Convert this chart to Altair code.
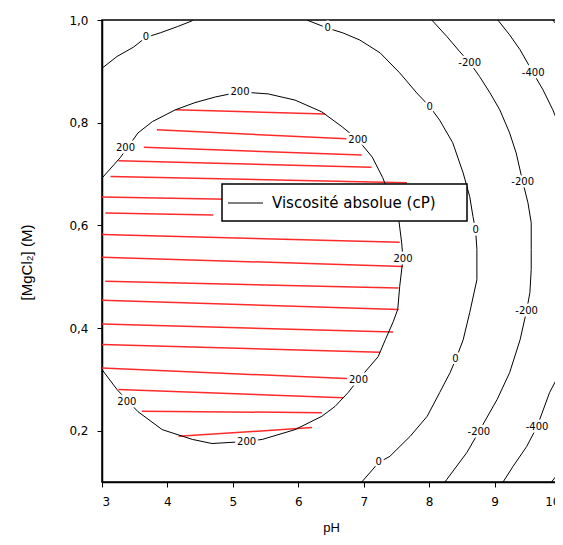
import altair as alt
import pandas as pd

# ---- contour lines (pH, [MgCl2]) ----
c200_ph = [3.00, 3.28, 3.55, 3.77, 4.12, 4.42, 4.73, 5.11, 5.54, 5.95, 6.36, 6.67, 6.91, 7.13, 7.29, 7.42,
           7.54, 7.58, 7.60, 7.55, 7.52, 7.45, 7.33, 7.22, 6.91, 6.76, 6.56, 6.36, 5.95, 5.45, 5.22, 4.68,
           4.38, 3.92, 3.55, 3.40, 3.23, 3.00]
c200_m = [0.692, 0.732, 0.780, 0.802, 0.825, 0.839, 0.850, 0.860, 0.856, 0.844, 0.821, 0.792, 0.767, 0.733,
          0.693, 0.650, 0.607, 0.566, 0.535, 0.481, 0.436, 0.412, 0.377, 0.344, 0.298, 0.274, 0.247, 0.228,
          0.202, 0.183, 0.179, 0.175, 0.183, 0.202, 0.237, 0.257, 0.280, 0.319]

c0a_ph = [3.00, 3.23, 3.48, 3.67, 3.89, 4.15, 4.37, 4.39]
c0a_m = [0.906, 0.929, 0.947, 0.966, 0.975, 0.987, 0.998, 1.000]

c0b_ph = [6.13, 6.45, 6.68, 6.94, 7.25, 7.55, 7.81, 8.01, 8.16, 8.36, 8.52, 8.62, 8.67, 8.71, 8.73, 8.73,
          8.62, 8.52, 8.41, 8.32, 8.16, 7.97, 7.71, 7.40, 7.23, 6.97]
c0b_m = [1.000, 0.984, 0.975, 0.961, 0.936, 0.897, 0.858, 0.831, 0.805, 0.761, 0.702, 0.656, 0.617, 0.591,
         0.553, 0.494, 0.430, 0.377, 0.340, 0.313, 0.274, 0.228, 0.189, 0.150, 0.138, 0.100]

cm200_ph = [8.04, 8.27, 8.47, 8.62, 8.77, 8.93, 9.08, 9.23, 9.33, 9.43, 9.51, 9.56, 9.56, 9.56, 9.54, 9.49,
            9.39, 9.23, 9.04, 8.76, 8.58, 8.27, 8.24]
cm200_m = [1.000, 0.968, 0.938, 0.917, 0.890, 0.858, 0.825, 0.780, 0.741, 0.685, 0.644, 0.605, 0.553, 0.514,
           0.469, 0.434, 0.377, 0.313, 0.261, 0.198, 0.158, 0.105, 0.100]

cm400a_ph = [9.05, 9.23, 9.39, 9.59, 9.74, 9.89, 10.00]
cm400a_m = [1.000, 0.971, 0.942, 0.897, 0.864, 0.825, 0.790]
cm400b_ph = [10.00, 9.84, 9.65, 9.49, 9.28, 9.13]
cm400b_m = [0.313, 0.274, 0.208, 0.169, 0.130, 0.100]

cm600a_ph = [9.89, 10.00]
cm600a_m = [1.000, 0.982]
cm600b_ph = [10.00, 9.87]
cm600b_m = [0.121, 0.100]

# ---- contour labels ----
label_text = ["200", "200", "200", "200", "200", "200", "200",
              "0", "0", "0", "0", "0", "0",
              "-200", "-200", "-200", "-200",
              "-400", "-400"]
label_ph = [3.36, 5.11, 6.91, 7.60, 6.92, 3.38, 5.21,
            3.67, 6.45, 8.01, 8.71, 8.40, 7.23,
            8.62, 9.43, 9.49, 8.76,
            9.59, 9.65]
label_m = [0.751, 0.860, 0.767, 0.535, 0.298, 0.255, 0.178,
           0.966, 0.984, 0.831, 0.591, 0.340, 0.139,
           0.917, 0.685, 0.434, 0.198,
           0.897, 0.208]

# ---- red hatching inside the 200 contour ----
hatch_ph_left = [4.12, 3.84, 3.64, 3.25, 3.13, 3.00, 3.05, 3.00, 3.00, 3.05, 3.00, 3.00, 3.00, 3.00, 3.25, 3.61, 4.17]
hatch_m_left = [0.825, 0.786, 0.752, 0.726, 0.695, 0.655, 0.624, 0.582, 0.538, 0.491, 0.454, 0.408, 0.368,
                0.322, 0.280, 0.238, 0.189]
hatch_ph_right = [6.41, 6.82, 6.97, 7.12, 7.66, 7.40, 4.70, 7.55, 7.60, 7.53, 7.53, 7.45, 7.25, 6.82, 6.69, 6.36, 6.21]
hatch_m_right = [0.817, 0.768, 0.737, 0.713, 0.683, 0.645, 0.620, 0.567, 0.520, 0.478, 0.436, 0.392, 0.353,
                 0.301, 0.264, 0.235, 0.206]

legend_label = "Viscosité absolue (cP)"
x_title = "pH"
y_title = "[MgCl₂]  (M)"

# ---- tables ----
contours = [("c200", c200_ph, c200_m), ("c0a", c0a_ph, c0a_m), ("c0b", c0b_ph, c0b_m),
            ("cm200", cm200_ph, cm200_m), ("cm400a", cm400a_ph, cm400a_m), ("cm400b", cm400b_ph, cm400b_m),
            ("cm600a", cm600a_ph, cm600a_m), ("cm600b", cm600b_ph, cm600b_m)]
rows = []
for name, phs, ms in contours:
    for i, (p, m) in enumerate(zip(phs, ms)):
        rows.append({"contour": name, "ph": p, "m": m, "order": i})
df_c = pd.DataFrame(rows)
df_l = pd.DataFrame({"ph": label_ph, "m": label_m, "t": label_text})
df_h = pd.DataFrame({"x1": hatch_ph_left, "y1": hatch_m_left, "x2": hatch_ph_right, "y2": hatch_m_right})
df_one = pd.DataFrame({"k": [0]})

xs = alt.Scale(domain=[3, 10], nice=False, zero=False)
ys = alt.Scale(domain=[0.1, 1.0], nice=False, zero=False)

xax = alt.Axis(values=[3, 4, 5, 6, 7, 8, 9, 10], format="d", title=x_title, grid=False, tickSize=5,
               labelPadding=9, titleY=45, titleBaseline="middle")
yax = alt.Axis(values=[0.2, 0.4, 0.6, 0.8, 1.0], title=y_title, grid=False, tickSize=5,
               labelPadding=9, labelExpr="replace(format(datum.value, '.1f'), '.', ',')",
               titleX=-76, titleY=242, titleBaseline="middle", titleFontSize=15)

hatch = alt.Chart(df_h).mark_rule(color="#ff2a2a", strokeWidth=1.5).encode(
    x=alt.X("x1:Q", scale=xs, axis=xax), y=alt.Y("y1:Q", scale=ys, axis=yax),
    x2="x2:Q", y2="y2:Q")

lines = alt.Chart(df_c).mark_line(color="black", strokeWidth=1, clip=True).encode(
    x=alt.X("ph:Q", scale=xs), y=alt.Y("m:Q", scale=ys),
    detail="contour:N", order="order:Q")

halo = alt.Chart(df_l).mark_text(fontSize=10, font="DejaVu Sans", stroke="white", strokeWidth=5,
                                 fill="white").encode(
    x=alt.X("ph:Q", scale=xs), y=alt.Y("m:Q", scale=ys), text="t:N")
labels = alt.Chart(df_l).mark_text(fontSize=10, font="DejaVu Sans", color="black").encode(
    x=alt.X("ph:Q", scale=xs), y=alt.Y("m:Q", scale=ys), text="t:N")

leg_box = alt.Chart(df_one).mark_rect(fill="white", stroke="black", strokeWidth=1.5).encode(
    x=alt.value(120), x2=alt.value(365), y=alt.value(164), y2=alt.value(201))
leg_line = alt.Chart(df_one).mark_rule(color="black", strokeWidth=1).encode(
    x=alt.value(126), x2=alt.value(161), y=alt.value(183))
leg_text = alt.Chart(df_one).mark_text(align="left", baseline="middle", fontSize=15,
                                       font="DejaVu Sans", color="black").encode(
    x=alt.value(170), y=alt.value(183), text=alt.value(legend_label))

chart = alt.layer(hatch, lines, halo, labels, leg_box, leg_line, leg_text).properties(
    width=458, height=462,
    autosize=alt.AutoSizeParams(type="none"),
    padding={"left": 94, "top": 12, "right": -5, "bottom": 54},
).configure_view(stroke="black", strokeWidth=1.5).configure_axis(
    domainColor="black", domainWidth=1.5, tickColor="black", tickWidth=1,
    labelFont="DejaVu Sans", labelFontSize=12, labelColor="black",
    titleFont="Liberation Sans", titleFontSize=13, titleFontWeight="normal", titleColor="black")

chart.save("out.html", embed_options={"renderer": "svg", "actions": False})
